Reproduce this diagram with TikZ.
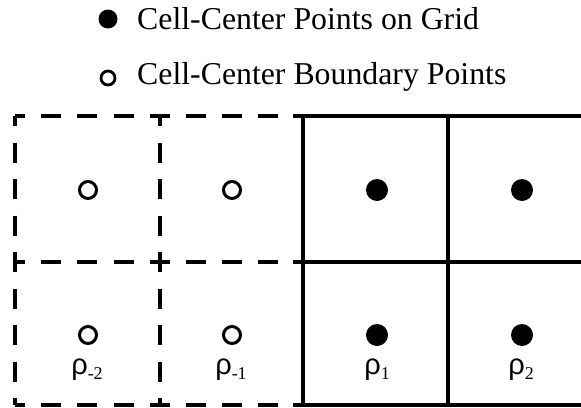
\documentclass[tikz,border=0pt]{standalone}
\usepackage{fontspec}
\setmainfont{Liberation Serif}
\newfontfamily\rhofont{Liberation Sans}
\newcommand{\rholab}[1]{{\fontsize{29}{29}\selectfont\rhofont ρ}\raisebox{-5pt}{\fontsize{18}{18}\selectfont #1}}
\begin{document}
\begin{tikzpicture}[x=1pt,y=-1pt,
  gridline/.style={line width=3.2pt},
  hdash/.style={line width=3.2pt,dash pattern=on 20pt off 16.2pt,dash phase=10pt},
  vdash/.style={line width=3.2pt,dash pattern=on 20pt off 16.5pt,dash phase=10pt},
  fullpt/.style={circle,fill=black,inner sep=0pt,minimum size=22pt},
  openpt/.style={circle,draw=black,line width=3pt,inner sep=0pt,minimum size=17pt},
  legtext/.style={anchor=base west,inner sep=0pt,font=\fontsize{31.8}{31.8}\selectfont},
  rholabel/.style={anchor=base,inner sep=0pt}]
\useasboundingbox (0,0) rectangle (581,407);
% legend
\node[circle,fill=black,inner sep=0pt,minimum size=19pt] (lf) at (108,19) {};
\node[legtext] (lft) at (137,29) {Cell-Center Points on Grid};
\node[circle,draw=black,line width=2.8pt,inner sep=0pt,minimum size=14pt] (lo) at (108,78) {};
\node[legtext] (lot) at (137,84) {Cell-Center Boundary Points};
% dashed part
\coordinate (d1) at (15,116); \coordinate (d1e) at (293,116);
\coordinate (d2) at (15,262); \coordinate (d2e) at (293,262);
\coordinate (d3) at (15,405); \coordinate (d3e) at (293,405);
\draw[hdash] (d1) -- (d1e);
\draw[hdash] (d2) -- (d2e);
\draw[hdash] (d3) -- (d3e);
\coordinate (v1t) at (15,116); \coordinate (v1b) at (15,405);
\coordinate (v2t) at (160,116); \coordinate (v2b) at (160,405);
\draw[vdash] (v1t) -- (v1b);
\draw[vdash] (v2t) -- (v2b);
% solid part
\coordinate (s1) at (293,116); \coordinate (s1e) at (581,116);
\coordinate (s2) at (293,262); \coordinate (s2e) at (581,262);
\coordinate (s3) at (293,405); \coordinate (s3e) at (581,405);
\draw[gridline] (s1) -- (s1e);
\draw[gridline] (s2) -- (s2e);
\draw[gridline] (s3) -- (s3e);
\coordinate (w1t) at (303,114.4); \coordinate (w1b) at (303,406.6);
\coordinate (w2t) at (448,114.4); \coordinate (w2b) at (448,406.6);
\draw[gridline] (w1t) -- (w1b);
\draw[gridline] (w2t) -- (w2b);
% points
\node[openpt] (o1) at (88,190) {};
\node[openpt] (o2) at (232,190) {};
\node[openpt] (o3) at (88,335) {};
\node[openpt] (o4) at (232,335) {};
\node[fullpt] (f1) at (377,190) {};
\node[fullpt] (f2) at (522,190) {};
\node[fullpt] (f3) at (377,335) {};
\node[fullpt] (f4) at (522,335) {};
% labels
\node[rholabel] (r1) at (87,374) {\rholab{-2}};
\node[rholabel] (r2) at (231,374) {\rholab{-1}};
\node[rholabel] (r3) at (377,374) {\rholab{1}};
\node[rholabel] (r4) at (521,374) {\rholab{2}};
\end{tikzpicture}
\end{document}
